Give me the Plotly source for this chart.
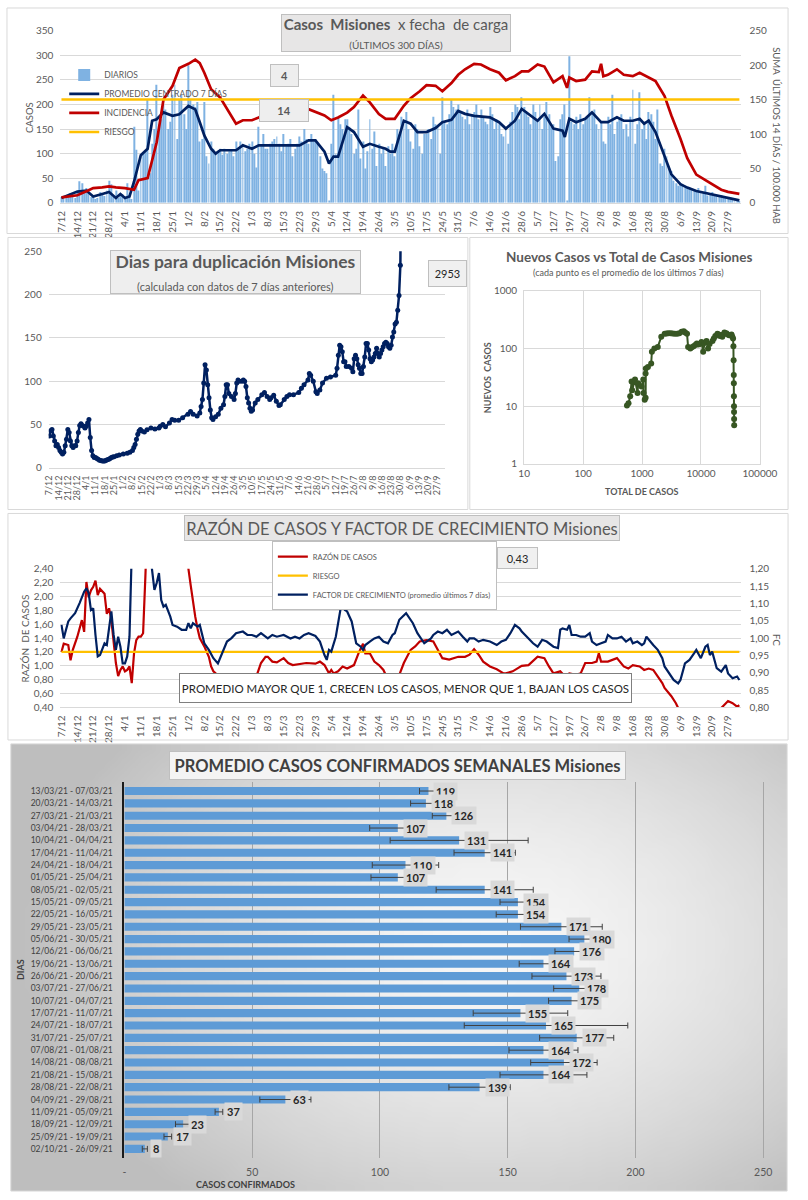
import base64, struct, zlib
import pandas as pd
import plotly.graph_objects as go

W, H = 808, 1200
FONT = "Lato"
TXT = "#595959"
NAVY = "#002060"
RED = "#C00000"
YEL = "#FFC000"
BARBLUE = "#7FB2E2"
HBLUE = "#5E9BD6"
GREEN = "#375623"
GRID = "#d9d9d9"

# ---------------- DATA ----------------
# Panel 1: daily cases (from 7/12/2020, one per day)
DAY0 = "2020-12-07"
DIARIOS = [
    12, 8, 15, 14, 20, 18, 10,
    22, 44, 40, 25, 30, 20, 12,
    15, 8, 10, 22, 18, 14, 25,
    45, 38, 12, 25, 10, 14, 18,
    10, 40, 15, 8, 155, 108, 25,
    95, 100, 105, 210, 60, 120, 150,
    240, 160, 170, 200, 190, 150, 165,
    220, 240, 130, 210, 220, 180, 150,
    280, 210, 200, 195, 205, 125, 130,
    205, 95, 80, 125, 110, 100, 105,
    110, 98, 110, 100, 105, 108, 95,
    125, 110, 125, 120, 105, 110, 120,
    125, 100, 72, 155, 115, 140, 110,
    110, 120, 125, 130, 135, 120, 105,
    140, 115, 120, 130, 95, 110, 120,
    135, 125, 150, 130, 120, 140, 125,
    130, 120, 95, 70, 65, 60, 5,
    120, 220, 100, 175, 160, 150, 170,
    170, 155, 140, 100, 110, 190, 90,
    125, 70, 105, 170, 110, 145, 75,
    120, 100, 110, 75, 115, 100, 120,
    95, 150, 140, 175, 160, 185, 150,
    125, 110, 160, 150, 115, 100, 140,
    140, 150, 130, 175, 160, 155, 100,
    215, 165, 160, 180, 210, 195, 190,
    200, 185, 175, 170, 190, 160, 180,
    185, 200, 170, 190, 175, 165, 160,
    195, 180, 150, 170, 160, 140, 135,
    150, 120, 165, 185, 200, 195, 170,
    215, 195, 185, 175, 160, 200, 185,
    170, 200, 150, 175, 205, 180, 155,
    160, 85, 95, 170, 180, 200, 5,
    298, 165, 160, 175, 150, 180, 160,
    170, 175, 215, 185, 190, 160, 150,
    165, 125, 120, 175, 160, 220, 140,
    165, 170, 180, 150, 160, 135, 175,
    230, 120, 160, 225, 150, 165, 130,
    185, 180, 165, 130, 190, 80, 75,
    110, 95, 70, 65, 45, 40, 35,
    40, 38, 35, 30, 32, 28, 25,
    25, 30, 22, 20, 35, 15, 18,
    22, 18, 15, 14, 16, 12, 10,
    10, 12, 8, 6, 5, 4,
]

PROM_D = ("7/12 14/12 18/12 21/12 25/12 28/12 31/12 2/1 4/1 6/1 8/1 11/1 14/1 16/1 18/1 21/1 25/1 28/1 1/2 4/2 "
          "6/2 8/2 11/2 13/2 15/2 22/2 25/2 1/3 4/3 8/3 15/3 22/3 26/3 29/3 2/4 4/4 6/4 8/4 12/4 15/4 "
          "19/4 22/4 26/4 29/4 1/5 3/5 7/5 10/5 13/5 17/5 21/5 24/5 28/5 31/5 3/6 7/6 14/6 18/6 21/6 25/6 "
          "28/6 1/7 5/7 8/7 12/7 16/7 17/7 19/7 22/7 26/7 29/7 2/8 5/8 9/8 12/8 16/8 19/8 21/8 23/8 26/8 "
          "30/8 2/9 6/9 9/9 13/9 17/9 20/9 24/9 27/9 2/10").split()
PROM_V = [10, 23, 25, 13, 18, 22, 10, 18, 10, 13, 43, 97, 110, 167, 170, 184, 177, 180, 197, 190,
          164, 137, 110, 100, 107, 107, 117, 110, 117, 117, 118, 117, 127, 127, 104, 80, 94, 94, 154, 144,
          114, 120, 114, 110, 104, 104, 167, 161, 144, 144, 152, 164, 169, 187, 181, 177, 174, 164, 151, 167,
          191, 181, 167, 181, 151, 147, 134, 171, 164, 171, 184, 164, 164, 174, 167, 167, 171, 161, 167, 144,
          97, 58, 38, 31, 24, 20, 17, 12, 9, 5]

INC_D = ("7/12 14/12 18/12 21/12 25/12 28/12 31/12 4/1 8/1 10/1 14/1 18/1 21/1 25/1 28/1 1/2 4/2 6/2 8/2 11/2 "
         "15/2 18/2 22/2 25/2 1/3 4/3 8/3 12/3 15/3 19/3 22/3 26/3 29/3 2/4 5/4 8/4 12/4 15/4 19/4 22/4 "
         "26/4 29/4 3/5 7/5 10/5 14/5 17/5 21/5 24/5 28/5 31/5 3/6 7/6 10/6 14/6 18/6 21/6 25/6 28/6 1/7 "
         "5/7 8/7 12/7 16/7 18/7 19/7 22/7 26/7 29/7 1/8 2/8 3/8 5/8 9/8 12/8 16/8 19/8 23/8 26/8 30/8 "
         "2/9 6/9 9/9 13/9 17/9 20/9 24/9 27/9 2/10").split()
INC_V = [8, 11, 17, 21.5, 22.5, 24, 22.5, 21.5, 19, 33, 36, 88, 150, 170, 196, 202, 208, 203, 189, 165,
         153, 136, 115, 120, 120, 124, 131, 134, 134, 136, 135, 136, 132, 127, 120, 124, 131, 139, 156, 146,
         129, 122, 122, 141, 152, 162, 171, 170, 162, 174, 186, 194, 202, 201, 194, 189, 178, 184, 191, 191,
         201, 198, 175, 184, 167, 182, 177, 179, 191, 190, 202, 184, 186, 194, 186, 184, 189, 182, 177, 155,
         127, 93, 65, 41, 33, 26, 19, 16, 13]
RIESGO_INC = 150

# Panel 2: days to doubling
DUP_D = ("7/12 8/12 9/12 10/12 11/12 12/12 13/12 14/12 15/12 16/12 17/12 18/12 19/12 20/12 21/12 22/12 23/12 24/12 25/12 26/12 "
         "27/12 28/12 29/12 30/12 31/12 1/1 2/1 3/1 4/1 5/1 6/1 7/1 8/1 9/1 10/1 11/1 12/1 13/1 14/1 15/1 "
         "16/1 17/1 18/1 19/1 20/1 21/1 22/1 23/1 24/1 25/1 27/1 29/1 1/2 4/2 6/2 8/2 9/2 10/2 11/2 12/2 "
         "13/2 14/2 15/2 17/2 19/2 22/2 25/2 28/2 1/3 3/3 5/3 8/3 10/3 12/3 15/3 18/3 22/3 24/3 26/3 29/3 "
         "31/3 1/4 2/4 3/4 4/4 5/4 6/4 7/4 8/4 9/4 10/4 12/4 14/4 16/4 18/4 19/4 20/4 21/4 22/4 24/4 "
         "26/4 27/4 28/4 29/4 30/4 2/5 3/5 4/5 5/5 6/5 7/5 8/5 9/5 10/5 12/5 14/5 17/5 19/5 21/5 23/5 "
         "24/5 26/5 28/5 30/5 31/5 3/6 5/6 7/6 10/6 14/6 16/6 18/6 21/6 22/6 23/6 25/6 27/6 28/6 30/6 2/7 "
         "5/7 8/7 12/7 13/7 14/7 15/7 16/7 17/7 18/7 19/7 20/7 22/7 24/7 25/7 26/7 27/7 28/7 29/7 30/7 31/7 "
         "1/8 2/8 3/8 4/8 5/8 6/8 7/8 8/8 9/8 10/8 11/8 12/8 13/8 14/8 15/8 16/8 17/8 18/8 19/8 20/8 "
         "21/8 22/8 23/8 24/8 25/8 26/8 27/8 28/8 29/8 30/8 31/8").split()
DUP_V = [37, 43, 44.5, 37, 31, 25.5, 27, 23.5, 20, 18, 16, 18, 25.5, 33, 44.5, 41, 31, 25.5, 23.5, 25.5,
         25.5, 31, 41, 49, 51, 49, 48, 46, 48, 52, 56, 35, 20, 14, 12, 12, 11, 10, 9, 8.5,
         8, 8, 8, 9, 9.5, 10, 11, 12, 12.5, 13, 14, 15, 16, 17, 18, 20, 23.5, 27, 33, 39,
         42.5, 44.5, 42.5, 41.5, 44, 46, 45, 46, 48, 50, 47.5, 52, 56, 55, 55, 58, 62, 65, 62, 60,
         63.5, 71, 79, 98, 119, 113, 96, 81, 67, 58, 56, 59, 62, 69, 73, 82.5, 96, 96, 86, 82.5,
         79, 86, 98, 101.5, 100, 100, 101.5, 100, 94, 81, 75, 69, 65.5, 67, 75, 79, 84.5, 87, 82.5, 79,
         81, 84, 77, 72, 73, 79, 82.5, 84.5, 84.5, 87, 92, 96, 101.5, 109, 107, 100, 88, 86, 90, 98,
         103.5, 105, 107, 115, 130, 141.5, 140, 134, 122.5, 122.5, 117, 117, 115, 111, 126, 130, 126, 119, 115, 109,
         109, 117, 128, 143.5, 143.5, 136, 126, 122.5, 124.5, 128, 132, 138, 132, 128, 132, 136, 140, 143.5, 145, 143.5,
         140, 138, 141.5, 151, 157, 166, 168, 182, 199, 234, 420]

# Panel 3: new cases vs total cases (log-log)
TOTAL_CASOS = [555, 590, 630, 665, 680, 760, 840, 860, 980, 1050,
               1060, 1110, 1150, 1150, 1160, 1260, 1430, 1470, 1620, 1850,
               2120, 2420, 2600, 2800, 3050, 3300, 3600, 3950, 4300, 4700,
               5100, 5400, 5800, 6050, 6600, 7000, 7500, 8000, 8500, 9000,
               9500, 10200, 10900, 11500, 12400, 13200, 14000, 15700, 16500, 17500,
               19000, 20000, 21000, 22000, 23000, 24000, 25000, 27000, 28500, 30000,
               32000, 33000, 34000, 35000, 35500, 35800, 36000, 36100, 36200, 36300,
               36400, 36500, 36600]
NUEVOS_CASOS = [10.3, 11.3, 15, 27, 19, 29, 17, 25, 22, 29,
                17, 13, 14, 37, 45, 48, 55, 88, 100, 107,
                160, 180, 182, 185, 185, 183, 180, 180, 185, 195,
                200, 190, 180, 107, 100, 105, 110, 115, 122, 118,
                120, 130, 88, 125, 135, 100, 120, 135, 150, 165,
                180, 175, 165, 170, 160, 175, 190, 185, 175, 170,
                170, 175, 160, 150, 110, 63, 35, 25, 15, 10,
                8, 6, 4.7]

# Panel 4: case ratio and growth factor
RAZON_D = ("7/12 8/12 10/12 11/12 12/12 14/12 16/12 17/12 18/12 19/12 20/12 21/12 22/12 23/12 24/12 25/12 26/12 27/12 28/12 29/12 "
           "30/12 31/12 1/1 2/1 3/1 4/1 5/1 6/1 7/1 8/1 9/1 10/1 11/1 12/1 13/1 14/1 20/1 27/1 31/1 1/2 "
           "2/2 3/2 4/2 5/2 6/2 8/2 10/2 11/2 12/2 13/2 15/2 17/2 19/2 21/2 22/2 24/2 26/2 28/2 1/3 3/3 "
           "5/3 7/3 8/3 10/3 12/3 15/3 17/3 19/3 22/3 25/3 29/3 31/3 2/4 4/4 5/4 6/4 8/4 10/4 12/4 15/4 "
           "17/4 19/4 20/4 22/4 24/4 26/4 28/4 30/4 2/5 3/5 5/5 7/5 10/5 12/5 14/5 17/5 20/5 22/5 24/5 27/5 "
           "31/5 3/6 5/6 7/6 9/6 11/6 14/6 17/6 20/6 21/6 24/6 28/6 1/7 5/7 8/7 10/7 12/7 15/7 17/7 19/7 "
           "22/7 24/7 26/7 29/7 31/7 1/8 2/8 5/8 9/8 12/8 14/8 16/8 19/8 21/8 23/8 25/8 27/8 29/8 30/8 2/9 "
           "4/9 5/9 10/9 17/9 24/9 26/9 27/9 29/9 1/10 2/10").split()
RAZON_V = [1.20, 1.32, 1.30, 1.08, 1.23, 1.42, 1.66, 1.49, 2.21, 1.99, 2.09, 2.14, 2.23, 2.02, 2.11, 2.07, 2.04, 1.75, 1.83, 1.66,
           1.32, 1.04, 0.85, 0.94, 0.99, 0.92, 0.94, 0.99, 0.75, 1.18, 1.37, 1.42, 1.42, 1.47, 2.28, 3.2, 3.8, 3.5, 2.9, 2.40,
           2.16, 1.90, 1.71, 1.54, 1.40, 1.28, 1.13, 0.99, 0.92, 0.89, 0.85, 0.80, 0.68, 0.58, 0.56, 0.63, 0.70, 0.75, 0.75, 0.85,
           1.04, 1.13, 1.13, 1.06, 1.05, 1.11, 1.04, 1.01, 1.03, 1.04, 1.03, 1.06, 1.01, 0.89, 0.94, 0.89, 0.92, 0.99, 0.96, 1.01,
           1.18, 1.32, 1.18, 1.18, 1.06, 1.01, 0.94, 0.80, 0.77, 0.82, 0.87, 1.04, 1.23, 1.28, 1.35, 1.37, 1.35, 1.23, 1.11, 1.09,
           1.13, 1.13, 1.16, 1.24, 1.16, 1.06, 0.99, 0.95, 0.89, 0.89, 0.92, 1.00, 1.01, 1.13, 1.11, 0.99, 0.89, 0.92, 0.85, 0.89,
           0.87, 0.89, 1.04, 1.04, 1.06, 1.18, 1.06, 1.06, 1.11, 0.99, 0.96, 1.01, 0.99, 0.94, 0.96, 0.94, 0.85, 0.75, 0.68, 0.56,
           0.46, 0.39, 0.30, 0.28, 0.39, 0.46, 0.49, 0.46, 0.41, 0.43]
RIESGO_RAZON = 1.2

FC_D = ("7/12 8/12 9/12 10/12 11/12 13/12 15/12 17/12 18/12 19/12 20/12 21/12 22/12 23/12 24/12 25/12 26/12 27/12 28/12 29/12 "
        "30/12 31/12 1/1 2/1 3/1 4/1 5/1 6/1 7/1 12/1 15/1 16/1 17/1 18/1 19/1 20/1 21/1 22/1 23/1 24/1 "
        "25/1 27/1 29/1 31/1 1/2 2/2 3/2 5/2 6/2 8/2 10/2 12/2 14/2 16/2 18/2 20/2 22/2 25/2 27/2 1/3 "
        "3/3 5/3 8/3 10/3 12/3 15/3 18/3 20/3 22/3 24/3 26/3 29/3 31/3 2/4 3/4 4/4 5/4 7/4 9/4 10/4 "
        "11/4 12/4 14/4 16/4 18/4 19/4 20/4 22/4 24/4 26/4 28/4 30/4 2/5 3/5 5/5 8/5 9/5 11/5 13/5 15/5 "
        "16/5 17/5 19/5 20/5 22/5 24/5 26/5 28/5 31/5 2/6 4/6 5/6 7/6 9/6 11/6 14/6 17/6 19/6 21/6 23/6 "
        "25/6 27/6 28/6 1/7 3/7 5/7 7/7 9/7 12/7 14/7 15/7 16/7 18/7 19/7 20/7 22/7 24/7 26/7 28/7 29/7 "
        "31/7 2/8 4/8 5/8 7/8 9/8 11/8 13/8 15/8 16/8 18/8 20/8 21/8 22/8 23/8 25/8 27/8 29/8 30/8 1/9 "
        "3/9 5/9 6/9 8/9 10/9 12/9 13/9 15/9 17/9 18/9 19/9 20/9 22/9 24/9 26/9 27/9 29/9 1/10 2/10").split()
FC_V = [1.038, 0.999, 1.024, 1.048, 1.057, 1.072, 1.101, 1.134, 1.144, 1.130, 1.081, 1.086, 1.009, 0.947, 0.951, 0.966, 0.985, 0.980, 1.033, 1.077,
        1.009, 0.966, 1.004, 0.975, 0.927, 0.927, 0.947, 1.004, 1.25, 1.30, 1.25, 1.197, 1.139, 1.159, 1.188, 1.110, 1.091, 1.096, 1.081, 1.062,
        1.038, 1.033, 1.024, 1.024, 1.043, 1.028, 1.043, 1.033, 1.038, 0.985, 0.966, 0.942, 0.927, 0.956, 0.990, 1.000, 1.014, 1.019, 1.009, 1.009,
        1.004, 1.014, 0.999, 1.009, 1.004, 1.009, 0.999, 1.004, 0.999, 1.009, 1.014, 1.006, 0.990, 0.951, 0.937, 0.966, 0.961, 1.004, 1.081, 1.096,
        1.081, 1.077, 1.048, 0.985, 0.975, 0.966, 0.980, 0.990, 0.999, 1.004, 0.990, 0.985, 1.009, 1.014, 1.053, 1.072, 1.062, 1.043, 1.014, 0.995,
        0.985, 0.990, 0.999, 1.009, 1.019, 1.014, 1.024, 1.009, 1.019, 1.004, 0.990, 0.999, 0.999, 0.990, 0.995, 0.990, 0.980, 0.990, 0.995, 1.014,
        1.038, 1.028, 1.019, 0.999, 0.985, 0.975, 0.995, 0.990, 0.975, 0.971, 1.024, 1.028, 1.024, 1.038, 1.009, 1.009, 1.004, 1.004, 1.014, 0.990,
        0.980, 0.985, 0.990, 1.009, 0.999, 0.999, 1.004, 0.990, 0.999, 0.985, 0.990, 0.980, 0.985, 1.004, 0.995, 0.980, 0.966, 0.942, 0.918, 0.898,
        0.879, 0.869, 0.879, 0.927, 0.937, 0.956, 0.966, 0.942, 0.975, 0.980, 0.951, 0.961, 0.913, 0.903, 0.922, 0.898, 0.884, 0.889, 0.879]

# Panel 5: weekly average confirmed cases
SEMANAS = ["13/03/21 - 07/03/21", "20/03/21 - 14/03/21", "27/03/21 - 21/03/21", "03/04/21 - 28/03/21",
           "10/04/21 - 04/04/21", "17/04/21 - 11/04/21", "24/04/21 - 18/04/21", "01/05/21 - 25/04/21",
           "08/05/21 - 02/05/21", "15/05/21 - 09/05/21", "22/05/21 - 16/05/21", "29/05/21 - 23/05/21",
           "05/06/21 - 30/05/21", "12/06/21 - 06/06/21", "19/06/21 - 13/06/21", "26/06/21 - 20/06/21",
           "03/07/21 - 27/06/21", "10/07/21 - 04/07/21", "17/07/21 - 11/07/21", "24/07/21 - 18/07/21",
           "31/07/21 - 25/07/21", "07/08/21 - 01/08/21", "14/08/21 - 08/08/21", "21/08/21 - 15/08/21",
           "28/08/21 - 22/08/21", "04/09/21 - 29/08/21", "11/09/21 - 05/09/21", "18/09/21 - 12/09/21",
           "25/09/21 - 19/09/21", "02/10/21 - 26/09/21"]
PROMEDIO = [119, 118, 126, 107, 131, 141, 110, 107, 141, 154, 154, 171, 180, 176, 164,
            173, 178, 175, 155, 165, 177, 164, 172, 164, 139, 63, 37, 23, 17, 8]
ERROR = [3.5, 6, 5.5, 11, 27, 12, 13, 10.5, 19, 7, 8.5, 16, 6, 7.5, 9.5,
         13.5, 10, 9, 18.5, 32, 14.5, 13.5, 13, 17, 12, 10, 1.5, 3, 1.5, 1]
X5_TICKS = [0, 50, 100, 150, 200, 250]
X5_TEXT = ["-", "50", "100", "150", "200", "250"]
LOG_TICKS = [10, 100, 1000, 10000, 100000]
LOGY_TICKS = [1, 10, 100, 1000]


# ---------------- HELPERS ----------------
def iso(s):
    dd, mm = s.split("/")
    return f"{2020 if mm == '12' else 2021}-{int(mm):02d}-{int(dd):02d}"


def px(x):
    return x / W


def py(y):
    return 1 - y / H


def gradient_png(w, h):
    rows = []
    for j in range(h):
        row = bytearray([0])
        for i in range(w):
            u = i / (w - 1)
            v = j / (h - 1)
            dx = (u - 0.62) / 0.62
            dy = (v - 0.45) / 0.75
            dist = min(1.0, (dx * dx + dy * dy) ** 0.5)
            c = int(248 - 58 * dist ** 1.5)
            row += bytes([c, c, c])
        rows.append(bytes(row))
    raw = b"".join(rows)

    def chunk(t, data):
        return (struct.pack(">I", len(data)) + t + data
                + struct.pack(">I", zlib.crc32(t + data) & 0xffffffff))

    png = (b"\x89PNG\r\n\x1a\n"
           + chunk(b"IHDR", struct.pack(">IIBBBBB", w, h, 8, 2, 0, 0, 0))
           + chunk(b"IDAT", zlib.compress(raw))
           + chunk(b"IEND", b""))
    return "data:image/png;base64," + base64.b64encode(png).decode()


dates = pd.date_range(DAY0, periods=len(DIARIOS), freq="D")
XR = ["2020-12-06 12:00", "2021-10-02 12:00"]
WEEK_MS = 7 * 86400000

fig = go.Figure()

# ---------------- PANEL 1 ----------------
fig.add_trace(go.Bar(x=dates, y=DIARIOS, width=0.42 * 86400000, marker=dict(color=BARBLUE, line=dict(width=0)),
                     name="DIARIOS", xaxis="x", yaxis="y", legend="legend"))
fig.add_trace(go.Scatter(x=[iso(s) for s in PROM_D], y=PROM_V, mode="lines", line=dict(color=NAVY, width=2.7),
                         name="PROMEDIO CENTRADO 7 DÍAS", xaxis="x", yaxis="y", legend="legend"))
fig.add_trace(go.Scatter(x=[iso(s) for s in INC_D], y=INC_V, mode="lines", line=dict(color=RED, width=2.7),
                         name="INCIDENCIA", xaxis="x", yaxis="y2", legend="legend"))
fig.add_trace(go.Scatter(x=[dates[0], dates[-1]], y=[RIESGO_INC, RIESGO_INC], mode="lines",
                         line=dict(color=YEL, width=2.5), name="RIESGO", xaxis="x", yaxis="y2", legend="legend"))

# ---------------- PANEL 2 ----------------
fig.add_trace(go.Scatter(x=[iso(s) for s in DUP_D], y=DUP_V, mode="lines+markers",
                         line=dict(color=NAVY, width=2.5), marker=dict(color=NAVY, size=5),
                         xaxis="x2", yaxis="y3", showlegend=False))

# ---------------- PANEL 3 ----------------
fig.add_trace(go.Scatter(x=TOTAL_CASOS, y=NUEVOS_CASOS, mode="lines+markers",
                         line=dict(color=GREEN, width=2), marker=dict(color=GREEN, size=6),
                         xaxis="x3", yaxis="y4", showlegend=False))

# ---------------- PANEL 4 ----------------
fig.add_trace(go.Scatter(x=[iso(s) for s in RAZON_D], y=RAZON_V, mode="lines", line=dict(color=RED, width=2.2),
                         name="RAZÓN DE CASOS", xaxis="x4", yaxis="y5", legend="legend2"))
fig.add_trace(go.Scatter(x=[dates[0], dates[-1]], y=[RIESGO_RAZON, RIESGO_RAZON], mode="lines",
                         line=dict(color=YEL, width=2.2), name="RIESGO", xaxis="x4", yaxis="y5", legend="legend2"))
fig.add_trace(go.Scatter(x=[iso(s) for s in FC_D], y=FC_V, mode="lines", line=dict(color=NAVY, width=2.2),
                         name="FACTOR DE CRECIMIENTO (promedio últimos 7 días)", xaxis="x4", yaxis="y6",
                         legend="legend2"))

# ---------------- PANEL 5 ----------------
fig.add_trace(go.Bar(y=SEMANAS, x=PROMEDIO, orientation="h", width=0.66,
                     marker=dict(color=HBLUE, line=dict(width=0)),
                     error_x=dict(type="data", array=ERROR, color="#404040", thickness=1, width=3),
                     xaxis="x5", yaxis="y7", showlegend=False))

tickf = dict(family=FONT, size=10, color=TXT)
date_axis = dict(type="date", range=XR, tick0="2020-12-07", dtick=WEEK_MS, tickformat="%-d/%-m",
                 tickangle=-90, tickfont=tickf, showgrid=False, showline=True, linecolor=GRID,
                 zeroline=False, ticks="", ticklabelstandoff=3)

fig.update_layout(
    autosize=True,
    margin=dict(l=0, r=0, t=0, b=0),
    paper_bgcolor="white", plot_bgcolor="rgba(0,0,0,0)",
    font=dict(family=FONT, color=TXT),
    separators=",.",
    showlegend=True,
    xaxis=dict(date_axis, domain=[px(56), px(757)], anchor="y"),
    yaxis=dict(domain=[py(198), py(24)], range=[0, 350], dtick=50, gridcolor=GRID, zeroline=False,
               tickfont=tickf, anchor="x", ticklabelstandoff=6),
    yaxis2=dict(overlaying="y", side="right", range=[0, 250], dtick=50, showgrid=False, zeroline=False,
                tickfont=tickf, anchor="x", ticklabelstandoff=8),
    xaxis2=dict(date_axis, domain=[px(44), px(452)], anchor="y3", tickfont=dict(family=FONT, size=9, color=TXT)),
    yaxis3=dict(domain=[py(466), py(247)], range=[0, 250], dtick=50, gridcolor=GRID, zeroline=False,
                tickfont=tickf, anchor="x2", ticklabelstandoff=6),
    xaxis3=dict(type="log", range=[1, 5], domain=[px(534), px(777)], anchor="y4", tickvals=LOG_TICKS,
                ticktext=[str(v) for v in LOG_TICKS], gridcolor=GRID, showline=True, mirror=True,
                linecolor=GRID, tickfont=tickf, zeroline=False, ticks=""),
    yaxis4=dict(type="log", range=[0, 3], domain=[py(462), py(287)], anchor="x3", tickvals=LOGY_TICKS,
                ticktext=[str(v) for v in LOGY_TICKS], gridcolor=GRID, showline=True, mirror=True,
                linecolor=GRID, tickfont=tickf, zeroline=False, ticks="", ticklabelstandoff=4),
    xaxis4=dict(date_axis, domain=[px(56), px(757)], anchor="y5"),
    yaxis5=dict(domain=[py(708), py(568)], range=[0.4, 2.4], dtick=0.2, tickformat=".2f", gridcolor=GRID,
                zeroline=False, tickfont=tickf, anchor="x4", ticklabelstandoff=6),
    yaxis6=dict(overlaying="y5", side="right", range=[0.8, 1.2], dtick=0.05, tickformat=".2f",
                showgrid=False, zeroline=False, tickfont=tickf, anchor="x4", ticklabelstandoff=8),
    xaxis5=dict(domain=[px(122), px(782)], anchor="y7", range=[0, 250.6], tickvals=X5_TICKS, ticktext=X5_TEXT,
                gridcolor="#a6a6a6", gridwidth=1, zeroline=False, tickfont=dict(family=FONT, size=10.5, color=TXT),
                ticks="", ticklabelstandoff=6),
    yaxis7=dict(domain=[py(1164), py(783)], anchor="x5", type="category", categoryorder="array",
                categoryarray=SEMANAS, autorange="reversed", showline=True, linecolor="#1a1a1a", linewidth=2,
                showgrid=False, tickfont=dict(family=FONT, size=8.5, color="#404040"), ticks="",
                ticklabelstandoff=8),
    legend=dict(x=px(60), y=py(54), xanchor="left", yanchor="top", bgcolor="rgba(0,0,0,0)",
                font=dict(family=FONT, size=8.5, color=TXT), itemwidth=30, tracegroupgap=0),
    legend2=dict(x=px(274), y=py(540), xanchor="left", yanchor="top", bgcolor="white",
                 bordercolor="#bfbfbf", borderwidth=1, font=dict(family=FONT, size=7.5, color=TXT),
                 itemwidth=30, tracegroupgap=0),
)

# Background gradient for the bottom panel
fig.add_layout_image(dict(source=gradient_png(80, 45), xref="paper", yref="paper", x=px(5), y=py(745),
                          sizex=px(800), sizey=452 / H, sizing="stretch", xanchor="left", yanchor="top",
                          layer="below"))

# Panel borders
for (x0, y0, x1, y1) in [(1, 1, 806, 229), (2, 233, 476, 508), (478, 233, 806, 508),
                         (2, 512, 806, 741), (5, 745, 805, 1197)]:
    fig.add_shape(type="rect", xref="paper", yref="paper", x0=px(x0), x1=px(x1), y0=py(y0), y1=py(y1),
                  line=dict(color=GRID, width=1), fillcolor="rgba(0,0,0,0)", layer="above")

ann = []


def box(x0, y0, x1, y1, text, size, bg="#e7e6e6", border="#bfbfbf", color=TXT, bw=1):
    ann.append(dict(xref="paper", yref="paper", x=px((x0 + x1) / 2), y=py((y0 + y1) / 2),
                    xanchor="center", yanchor="middle", text=text, showarrow=False,
                    font=dict(family=FONT, size=size, color=color), bgcolor=bg, bordercolor=border,
                    borderwidth=bw, borderpad=0, width=x1 - x0 - 2, height=y1 - y0 - 2, align="center"))


def label(x, y, text, size, angle=0, color=TXT, bold=False):
    t = f"<b>{text}</b>" if bold else text
    ann.append(dict(xref="paper", yref="paper", x=px(x), y=py(y), xanchor="center", yanchor="middle",
                    text=t, showarrow=False, textangle=angle, font=dict(family=FONT, size=size, color=color)))


# Panel 1 texts
box(287, 7, 517, 45, "<b>Casos  Misiones</b>  x fecha  de carga<br><span style='font-size:10px'>(ÚLTIMOS 300 DÍAS)</span>", 15)
box(273, 58, 302, 81, "<b>4</b>", 11, bg="#eeeeee")
box(262, 93, 312, 116, "<b>14</b>", 11, bg="#eeeeee")
label(25, 112, "CASOS", 9.5, angle=-90)
label(794, 130, "SUMA  ÚLTIMOS 14 DÍAS / 100.000 HAB", 9.5, angle=90)

# Panel 2 texts
box(111, 246, 362, 290, "<b>Dias para duplicación Misiones</b><br><span style='font-size:11px'>(calculada con datos de 7 días anteriores)</span>", 17.5, bg="#eeeeee")
box(435, 256, 474, 283, "2953", 11, bg="#f0f0f0", color="#262626")

# Panel 3 texts
label(642, 253, "Nuevos Casos vs Total de Casos Misiones", 13.5, bold=True)
label(642, 268, "(cada punto es el promedio de los últimos 7 días)", 9)
label(655, 490, "TOTAL DE CASOS", 9, bold=True)
label(497, 375, "NUEVOS  CASOS", 9, angle=-90, bold=True)

# Panel 4 texts
box(190, 514, 626, 540, "RAZÓN DE CASOS Y FACTOR DE CRECIMIENTO Misiones", 16.5)
box(507, 546, 548, 568, "0,43", 11, bg="#f0f0f0", color="#262626")
box(185, 673, 638, 703, "PROMEDIO MAYOR QUE 1, CRECEN LOS CASOS, MENOR QUE 1, BAJAN LOS CASOS", 11.5,
    bg="white", border="#7f7f7f", color="#262626")
label(20, 638, "RAZÓN  DE CASOS", 10, angle=-90)
label(795, 640, "FC", 10, angle=90)

# Panel 5 texts
box(175, 752, 632, 781, "<b>PROMEDIO CASOS CONFIRMADOS SEMANALES Misiones</b>", 16.5, bg="#f4f4f4",
    color="#404040")
label(247, 1190, "CASOS CONFIRMADOS", 9, bold=True, color="#404040")
label(15, 973, "DIAS", 9, angle=-90, bold=True, color="#404040")

for s, v in zip(SEMANAS, PROMEDIO):
    ann.append(dict(xref="x5", yref="y7", x=v, y=s, xanchor="left", yanchor="middle", xshift=5,
                    text=f"<b>{v}</b>", showarrow=False, bgcolor="#d9d9d9", borderpad=2,
                    font=dict(family=FONT, size=11, color="#262626")))

fig.update_layout(annotations=ann)
fig.write_html("out.html", config={"displayModeBar": False, "responsive": True},
               default_width="100vw", default_height="100vh",
               post_script="var gd=document.getElementById('{plot_id}');"
                           "document.documentElement.style.overflow='hidden';"
                           "document.body.style.margin='0';document.body.style.padding='0';"
                           "document.body.style.overflow='hidden';"
                           "gd.style.position='fixed';gd.style.left='0px';gd.style.top='0px';"
                           "gd.style.width='100vw';gd.style.height='100vh';"
                           "Plotly.Plots.resize(gd);")
